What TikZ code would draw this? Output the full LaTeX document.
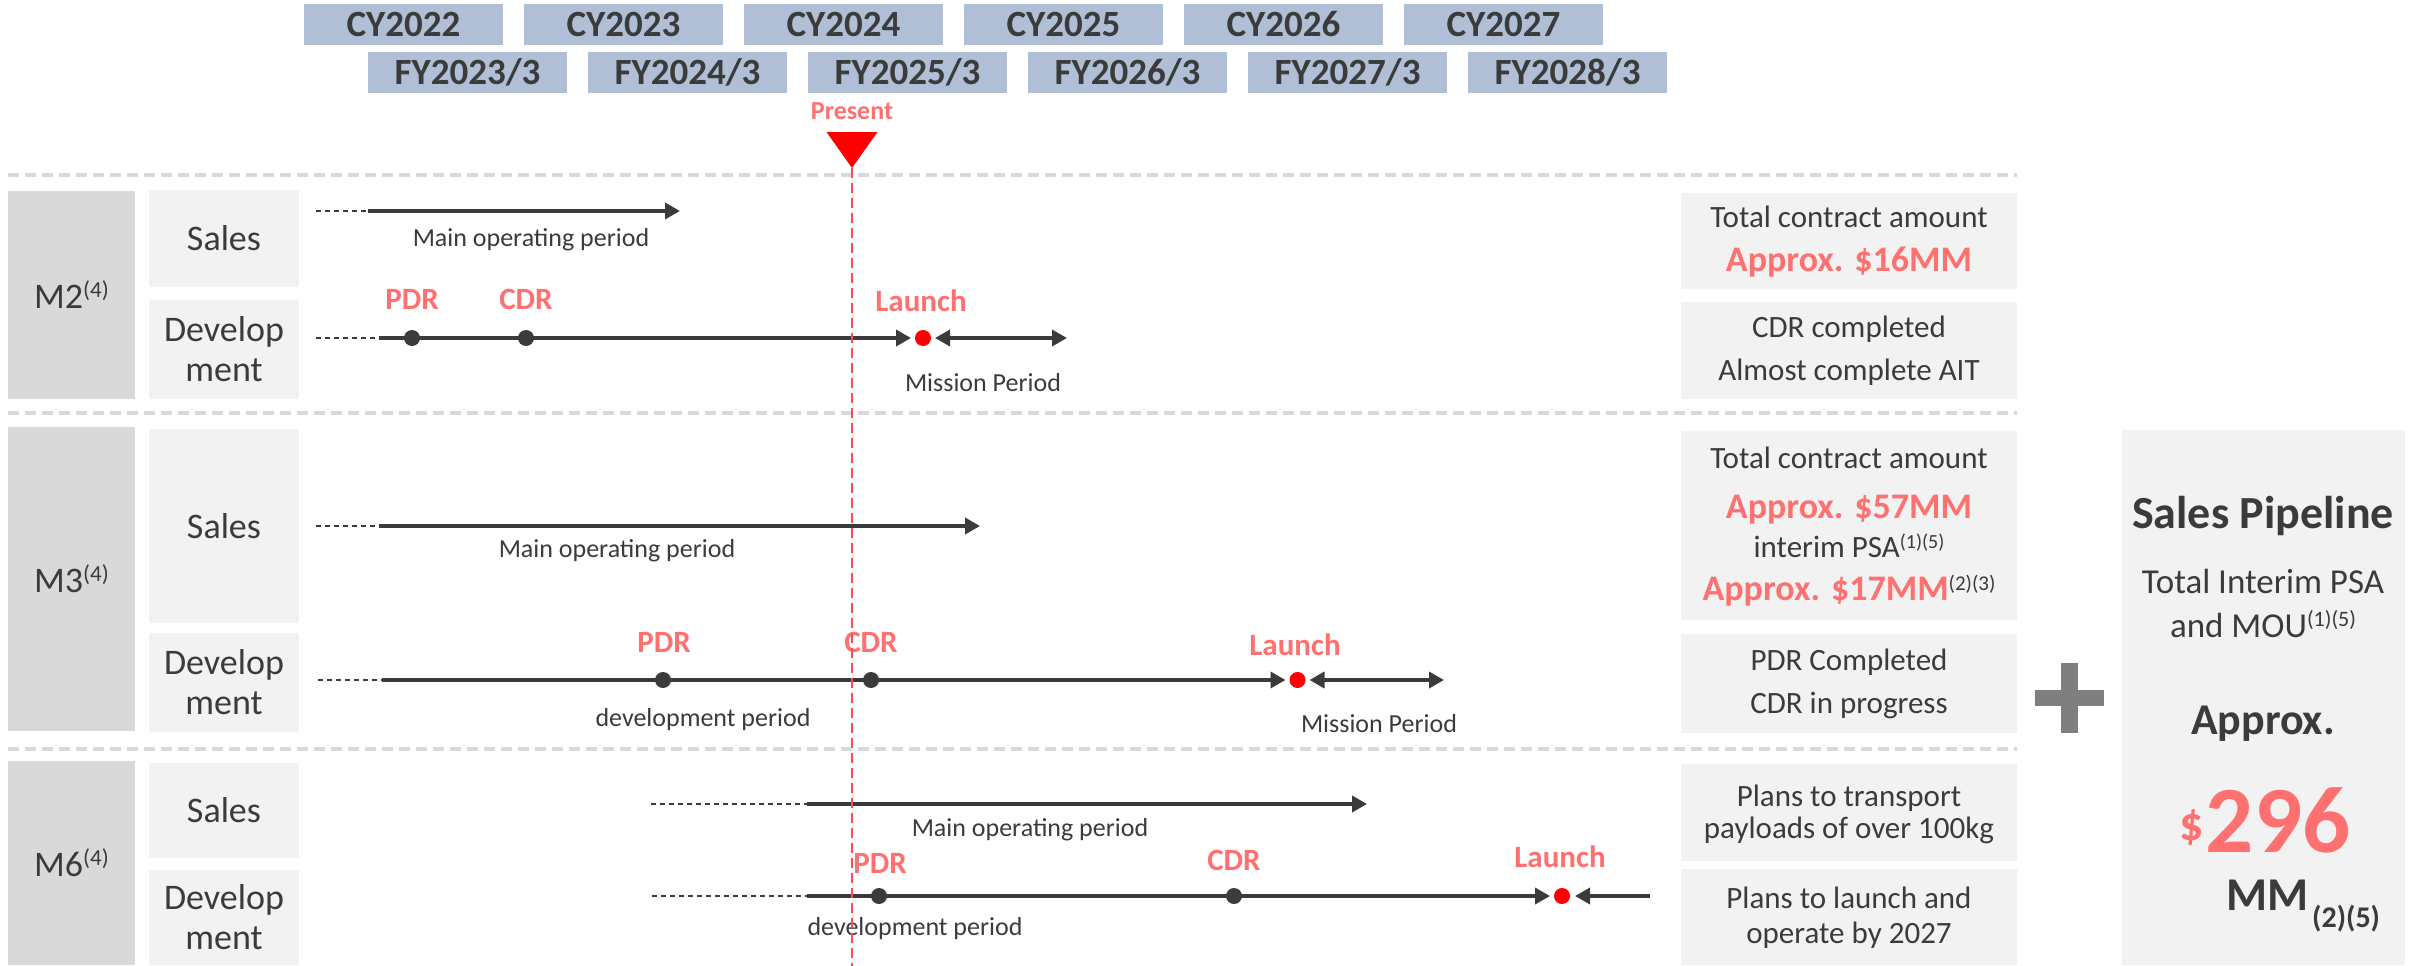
\documentclass[tikz,border=0pt]{standalone}
\usepackage{fontspec}
\setmainfont{Carlito}
\usetikzlibrary{arrows.meta}
\definecolor{txt}{HTML}{3B3B3B}
\definecolor{hdr}{HTML}{B0BFD6}
\definecolor{lgray}{HTML}{F2F2F2}
\definecolor{mgray}{HTML}{D9D9D9}
\definecolor{salmon}{HTML}{FF7171}
\definecolor{pres}{HTML}{FF4D4D}
\definecolor{plusg}{HTML}{7F7F7F}
\newcommand\fsz[1]{\fontsize{#1}{#1}\selectfont}
\newcommand\supsm[3]{\raisebox{#2pt}{\fontsize{#1}{#1}\selectfont #3}}
\begin{document}
\begin{tikzpicture}[x=1pt,y=-1pt,
  every node/.style={text=txt, inner sep=0pt, outer sep=0pt},
  hdrbox/.style={fill=hdr, minimum width=199pt, minimum height=41pt, font=\fsz{37}\bfseries},
  mbox/.style={fill=mgray, minimum width=127pt, font=\fsz{36}},
  sdbox/.style={fill=lgray, minimum width=150pt, font=\fontsize{36}{40}\selectfont, align=center},
  rbox/.style={fill=lgray, minimum width=336pt},
  rtxt/.style={anchor=base, font=\fsz{31}},
  rred/.style={anchor=base, font=\fsz{36}\bfseries, text=salmon},
  sepline/.style={draw=mgray, line width=4pt, dash pattern=on 11pt off 6pt},
  tl/.style={line width=3.5pt, draw=txt},
  tlarrow/.style={tl, -{Triangle[length=15pt,width=16pt]}},
  tldouble/.style={tl, {Triangle[length=15pt,width=16pt]}-{Triangle[length=15pt,width=16pt]}},
  leadin/.style={draw=txt, line width=2pt, dash pattern=on 5pt off 4pt},
  tdot/.style={circle, fill=txt, minimum size=16pt},
  rdot/.style={circle, fill=red, minimum size=16pt},
  mslabel/.style={anchor=base, font=\fsz{31}\bfseries, text=salmon},
  plabel/.style={anchor=base, font=\fsz{26}}
]
\fill[white] (0,0) rectangle (2422,966);
\useasboundingbox (0,0) rectangle (2422,966);

% header
\foreach \i/\t in {0/CY2022,1/CY2023,2/CY2024,3/CY2025,4/CY2026,5/CY2027}
  \node[hdrbox] (cy\i) at (403.5+220*\i,24.5) {\t};
\foreach \i/\t in {0/{FY2023/3},1/{FY2024/3},2/{FY2025/3},3/{FY2026/3},4/{FY2027/3},5/{FY2028/3}}
  \node[hdrbox] (fy\i) at (467.5+220*\i,72.5) {\t};
\node[font=\fsz{26}\bfseries, text=salmon] (present) at (852,111) {Present};
\fill[red] (826.5,132) -- (877.5,132) -- (852,168) -- cycle;
\coordinate (presTop) at (852,168);
\coordinate (presEnd) at (852,966);

% separators
\draw[sepline] (8,175) -- (2017,175);
\draw[sepline] (8,413) -- (2017,413);
\draw[sepline] (8,749) -- (2017,749);

% left boxes
\node[mbox, minimum height=208pt] (m2) at (71.5,295) {M2\supsm{23}{11}{(4)}};
\node[sdbox, minimum height=97pt] (m2s) at (224,238.5) {Sales};
\node[sdbox, minimum height=99pt] (m2d) at (224,349.5) {Develop\\ment};
\node[mbox, minimum height=304pt] (m3) at (71.5,579) {M3\supsm{23}{11}{(4)}};
\node[sdbox, minimum height=194pt] (m3s) at (224,526) {Sales};
\node[sdbox, minimum height=99pt] (m3d) at (224,682.5) {Develop\\ment};
\node[mbox, minimum height=204pt] (m6) at (71.5,863) {M6\supsm{23}{11}{(4)}};
\node[sdbox, minimum height=95pt] (m6s) at (224,810.5) {Sales};
\node[sdbox, minimum height=95pt] (m6d) at (224,917.5) {Develop\\ment};

% right boxes
\node[rbox, minimum height=96pt] (r1) at (1849,241) {};
\node[rtxt] (r1a) at (1849,227) {Total contract amount};
\node[rred] (r1b) at (1849,271) {Approx. \$16MM};
\node[rbox, minimum height=97pt] (r2) at (1849,350.5) {};
\node[rtxt] (r2a) at (1849,337) {CDR completed};
\node[rtxt] (r2b) at (1849,380) {Almost complete AIT};
\node[rbox, minimum height=189pt] (r3) at (1849,525.5) {};
\node[rtxt] (r3a) at (1849,468) {Total contract amount};
\node[rred] (r3b) at (1849,518) {Approx. \$57MM};
\node[rtxt] (r3c) at (1849,557) {interim PSA\supsm{20}{9}{(1)(5)}};
\node[rred] (r3d) at (1849,600) {Approx. \$17MM{\color{txt}\mdseries\supsm{21}{10}{(2)(3)}}};
\node[rbox, minimum height=99pt] (r4) at (1849,683.5) {};
\node[rtxt] (r4a) at (1849,670) {PDR Completed};
\node[rtxt] (r4b) at (1849,713) {CDR in progress};
\node[rbox, minimum height=97pt] (r5) at (1849,812.5) {};
\node[rtxt] (r5a) at (1849,806) {Plans to transport};
\node[rtxt] (r5b) at (1849,838) {payloads of over 100kg};
\node[rbox, minimum height=96pt] (r6) at (1849,917) {};
\node[rtxt] (r6a) at (1849,908) {Plans to launch and};
\node[rtxt] (r6b) at (1849,943) {operate by 2027};

% plus
\fill[plusg] (2061,663) rectangle (2078,733);
\fill[plusg] (2035,690) rectangle (2104,706);

% sales pipeline
\node[fill=lgray, minimum width=283pt, minimum height=535pt] (sp) at (2263.5,697.5) {};
\node[anchor=base, font=\fsz{46}\bfseries] (sp1) at (2263,528) {Sales Pipeline};
\node[anchor=base, font=\fsz{35}] (sp2) at (2263,593) {Total Interim PSA};
\node[anchor=base, font=\fsz{35}] (sp3) at (2263,637) {and MOU\supsm{22}{11}{(1)(5)}};
\node[anchor=base, font=\fsz{44}\bfseries] (sp4) at (2263,734) {Approx.};
\node[anchor=base, font=\bfseries, text=salmon] (sp5) at (2265,852) {\raisebox{12pt}{\fsz{48}\$}\hspace{2pt}{\fsz{95}296}};
\node[anchor=base, font=\bfseries] (sp6) at (2303,910) {{\fsz{47}MM}\hspace{4pt}\raisebox{-17pt}{\fsz{30}(2)(5)}};

% ---- M2 sales
\coordinate (a1) at (316,211); \coordinate (a2) at (368,211); \coordinate (a3) at (680,211);
\draw[tlarrow] (a2) -- (a3);
\draw[leadin] (a1) -- (a2);
\node[plabel] (a4) at (531,246.5) {Main operating period};

% ---- M2 development
\coordinate (b1) at (316,338); \coordinate (b2) at (379,338); \coordinate (b6) at (1067,338);
\node[tdot] (b3) at (412,338) {};
\node[tdot] (b4) at (526,338) {};
\node[rdot] (b5) at (923,338) {};
\draw[tlarrow] (b2) -- ([xshift=-4pt]b5.west);
\draw[tldouble] ([xshift=4pt]b5.east) -- (b6);
\draw[leadin] (b1) -- (b2);
\node[mslabel] (b7) at (412,309) {PDR};
\node[mslabel] (b8) at (526,309) {CDR};
\node[mslabel] (b9) at (921,311) {Launch};
\node[plabel] (b10) at (983,391) {Mission Period};

% ---- M3 sales
\coordinate (c1) at (316,526); \coordinate (c2) at (403,526);
\coordinate (c3) at (379,526); \coordinate (c4) at (980,526);
\draw[tlarrow] (c3) -- (c4);
\draw[leadin] (c1) -- (c2);
\node[plabel] (c5) at (617,557) {Main operating period};

% ---- M3 development
\coordinate (d1) at (318,680); \coordinate (d2) at (382,680); \coordinate (d6) at (1444,680);
\node[tdot] (d3) at (663,680) {};
\node[tdot] (d4) at (871,680) {};
\node[rdot] (d5) at (1297.5,680) {};
\draw[tlarrow] (d2) -- ([xshift=-4pt]d5.west);
\draw[tldouble] ([xshift=4pt]d5.east) -- (d6);
\draw[leadin] (d1) -- (d2);
\node[mslabel] (d7) at (664,652) {PDR};
\node[mslabel] (d8) at (871,652) {CDR};
\node[mslabel] (d9) at (1295,655) {Launch};
\node[plabel] (d10) at (703,726) {development period};
\node[plabel] (d11) at (1379,732) {Mission Period};

% ---- M6 sales
\coordinate (e1) at (651,804); \coordinate (e2) at (807,804); \coordinate (e3) at (1367,804);
\draw[tlarrow] (e2) -- (e3);
\draw[leadin] (e1) -- (e2);
\node[plabel] (e4) at (1030,836.5) {Main operating period};

% ---- M6 development
\coordinate (f1) at (652,896); \coordinate (f2) at (807,896); \coordinate (f6) at (1650,896);
\node[tdot] (f3) at (879,896) {};
\node[tdot] (f4) at (1234,896) {};
\node[rdot] (f5) at (1562,896) {};
\draw[tlarrow] (f2) -- ([xshift=-4pt]f5.west);
\draw[tlarrow] (f6) -- ([xshift=5pt]f5.east);
\draw[leadin] (f1) -- (f2);
\node[mslabel] (f7) at (880,873) {PDR};
\node[mslabel] (f8) at (1234,870) {CDR};
\node[mslabel] (f9) at (1560,867) {Launch};
\node[plabel] (f10) at (915,935.5) {development period};

% present line
\draw[pres, line width=2.5pt, dash pattern=on 10pt off 5pt] (presTop) -- (presEnd);
\end{tikzpicture}
\end{document}
